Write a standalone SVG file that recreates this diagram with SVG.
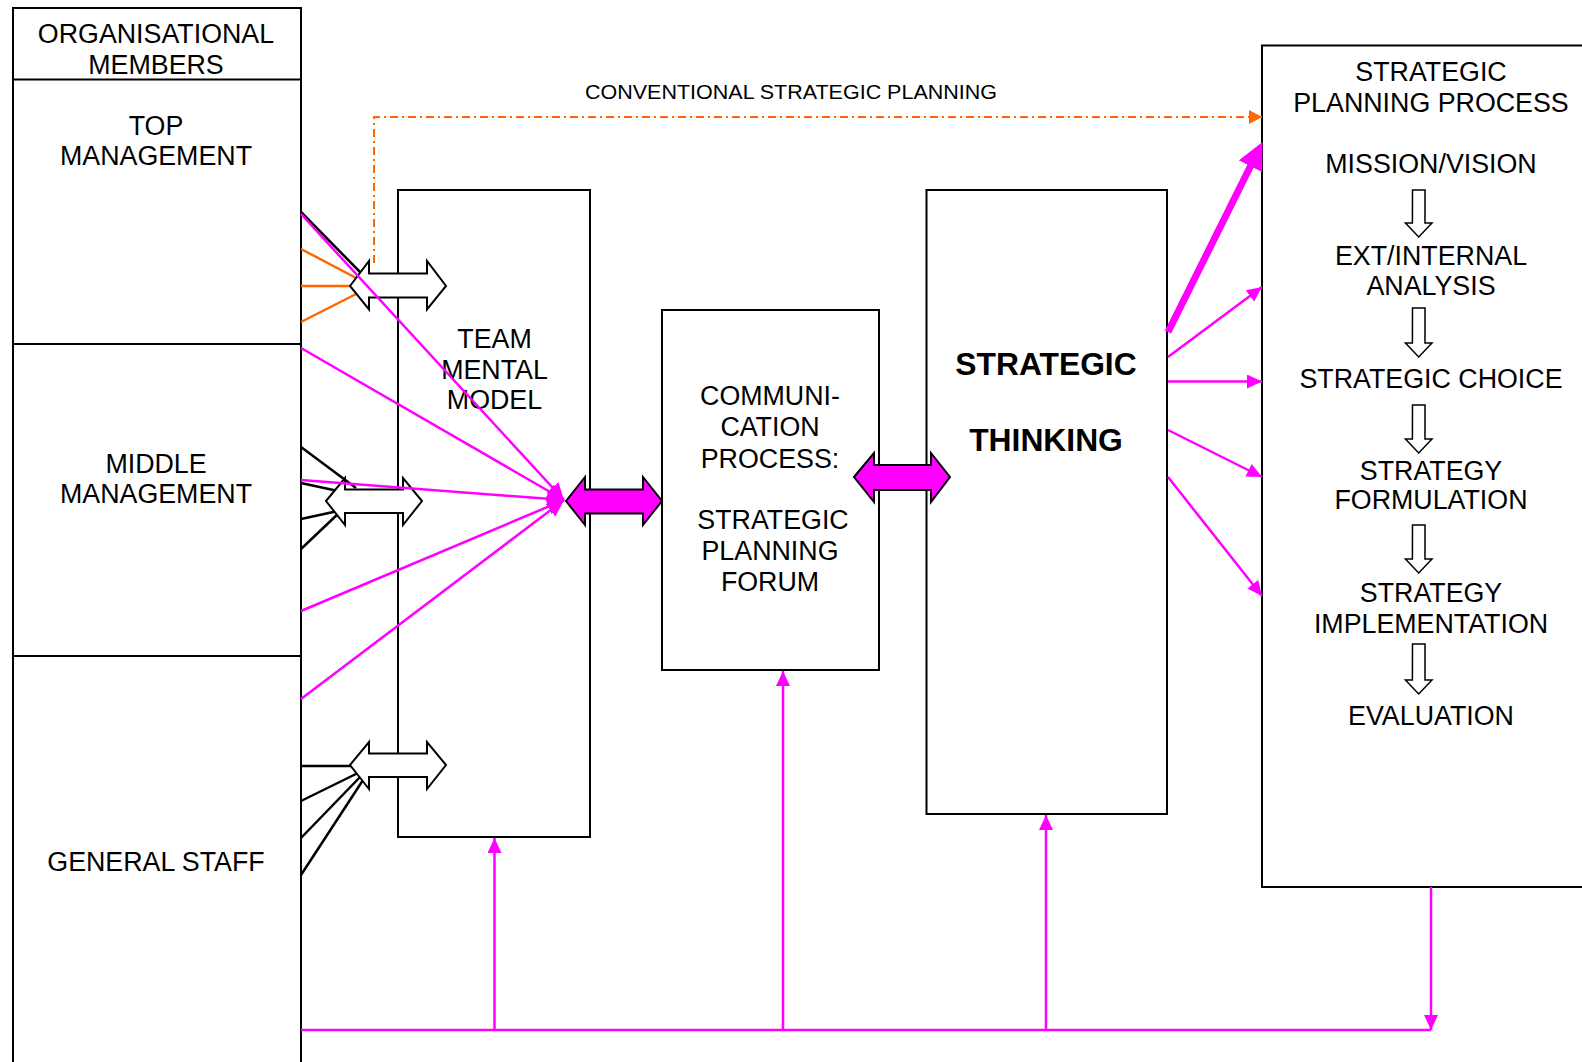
<svg xmlns="http://www.w3.org/2000/svg" width="1582" height="1062" viewBox="0 0 1582 1062">
<style>
.box{fill:#fff;stroke:#000;stroke-width:2}
.t{font-family:"Liberation Sans",Arial,sans-serif;font-size:26.8px;fill:#000;text-anchor:middle}
.tb{font-family:"Liberation Sans",Arial,sans-serif;font-size:31.8px;font-weight:bold;fill:#000;text-anchor:middle}
.blk{stroke:#000;stroke-width:2.5;fill:none}
.org{stroke:#FF6600;stroke-width:2.5;fill:none}
.mag{stroke:#FF00FF;stroke-width:2.5;fill:none}
.wa{fill:#fff;stroke:#000;stroke-width:2}
.ma{fill:#FF00FF;stroke:#000;stroke-width:2}
.ha{fill:#fff;stroke:#000;stroke-width:1.5}
</style>
<defs>
<marker id="mh" markerUnits="userSpaceOnUse" markerWidth="16" markerHeight="14" refX="15" refY="7" orient="auto"><path d="M0,0 L15,7 L0,14 z" fill="#FF00FF"/></marker>
<marker id="mhc" markerUnits="userSpaceOnUse" markerWidth="18" markerHeight="16" refX="17" refY="8" orient="auto"><path d="M0,0 L17,8 L0,16 z" fill="#FF00FF"/></marker>
<marker id="mhb" markerUnits="userSpaceOnUse" markerWidth="28" markerHeight="26" refX="12" refY="13" orient="auto"><path d="M0,0 L27,13 L0,26 z" fill="#FF00FF"/></marker>
<marker id="oh" markerUnits="userSpaceOnUse" markerWidth="14" markerHeight="14" refX="13" refY="7" orient="auto"><path d="M0,0 L13,7 L0,14 z" fill="#FF6600"/></marker>
</defs>

<g id="members">
<rect class="box" x="13" y="8" width="288" height="1070"/>
<line class="blk" x1="13" y1="79.5" x2="301" y2="79.5" style="stroke-width:2"/>
<line class="blk" x1="13" y1="344" x2="301" y2="344" style="stroke-width:2"/>
<line class="blk" x1="13" y1="656" x2="301" y2="656" style="stroke-width:2"/>
<text class="t" x="156" y="42.5">ORGANISATIONAL</text>
<text class="t" x="156" y="73.5">MEMBERS</text>
</g>
<g id="top-management">
<text class="t" x="156" y="134.5">TOP</text>
<text class="t" x="156" y="165">MANAGEMENT</text>
</g>
<g id="middle-management">
<text class="t" x="156" y="472.5">MIDDLE</text>
<text class="t" x="156" y="503">MANAGEMENT</text>
</g>
<g id="general-staff">
<text class="t" x="156" y="871">GENERAL STAFF</text>
</g>

<g id="team-mental-model">
<rect class="box" x="398" y="190" width="192" height="647"/>
<text class="t" x="494.5" y="347.5">TEAM</text>
<text class="t" x="494.5" y="378.5">MENTAL</text>
<text class="t" x="494.5" y="409">MODEL</text>
</g>

<g id="communication-process">
<rect class="box" x="662" y="310" width="217" height="360"/>
<text class="t" x="770" y="405">COMMUNI-</text>
<text class="t" x="770" y="436">CATION</text>
<text class="t" x="770" y="467.5">PROCESS:</text>
<text class="t" x="773" y="529">STRATEGIC</text>
<text class="t" x="770" y="559.5">PLANNING</text>
<text class="t" x="770" y="590.5">FORUM</text>
</g>

<g id="strategic-thinking">
<rect class="box" x="926.5" y="190" width="240.5" height="624"/>
<text class="tb" x="1046" y="375">STRATEGIC</text>
<text class="tb" x="1046" y="451">THINKING</text>
</g>

<g id="strategic-planning-process">
<rect class="box" x="1262" y="45.5" width="340" height="841.5"/>
<text class="t" x="1431" y="80.5">STRATEGIC</text>
<text class="t" x="1431" y="111.5">PLANNING PROCESS</text>
<text class="t" x="1431" y="172.5">MISSION/VISION</text>
<text class="t" x="1431" y="264.5">EXT/INTERNAL</text>
<text class="t" x="1431" y="295">ANALYSIS</text>
<text class="t" x="1431" y="388">STRATEGIC CHOICE</text>
<text class="t" x="1431" y="479.5">STRATEGY</text>
<text class="t" x="1431" y="509">FORMULATION</text>
<text class="t" x="1431" y="601.5">STRATEGY</text>
<text class="t" x="1431" y="633">IMPLEMENTATION</text>
<text class="t" x="1431" y="725">EVALUATION</text>
<path class="ha" d="M1412.5,190 h12.5 v33 h7 l-13.3,14 l-13.3,-14 h7 z"/>
<path class="ha" d="M1412.5,308 h12.5 v35 h7 l-13.3,14 l-13.3,-14 h7 z"/>
<path class="ha" d="M1412.5,405 h12.5 v34 h7 l-13.3,14 l-13.3,-14 h7 z"/>
<path class="ha" d="M1412.5,525 h12.5 v34 h7 l-13.3,14 l-13.3,-14 h7 z"/>
<path class="ha" d="M1412.5,644 h12.5 v36 h7 l-13.3,14 l-13.3,-14 h7 z"/>
</g>

<g id="connectors">
<line class="blk" x1="301" y1="212" x2="362" y2="274"/>
<line class="org" x1="301" y1="249" x2="360" y2="280"/>
<line class="org" x1="301" y1="286" x2="355" y2="286"/>
<line class="org" x1="301" y1="322" x2="360" y2="292"/>
<line class="blk" x1="301" y1="447" x2="356" y2="488"/>
<line class="blk" x1="301" y1="483" x2="338" y2="491"/>
<line class="blk" x1="301" y1="519" x2="338" y2="511"/>
<line class="blk" x1="301" y1="549" x2="340" y2="512"/>
<line class="blk" x1="301" y1="766" x2="355" y2="766"/>
<line class="blk" x1="301" y1="801" x2="360" y2="772"/>
<line class="blk" x1="301" y1="838" x2="362" y2="775"/>
<line class="blk" x1="301" y1="875" x2="365" y2="777"/>

<polyline class="org" style="stroke-width:2;stroke-dasharray:8 4 2 4" points="374,263 374,117 1262,117" marker-end="url(#oh)"/>
<text x="791" y="99" style="font-family:'Liberation Sans',Arial,sans-serif;font-size:20px;fill:#000;text-anchor:middle" textLength="412" lengthAdjust="spacingAndGlyphs">CONVENTIONAL STRATEGIC PLANNING</text>

<path class="wa" d="M350,286 L369,261 V273.5 H427 V261 L446,286 L427,309.5 V297.5 H369 V309.5 Z"/>
<path class="wa" d="M326,501 L345,478 V489.5 H403 V478 L422,501 L403,525 V513 H345 V525 Z"/>
<path class="wa" d="M350,765 L369,742 V753.5 H427 V742 L446,765 L427,789 V777 H369 V789 Z"/>

<line class="mag" x1="301" y1="214" x2="564" y2="500" marker-end="url(#mhc)"/>
<line class="mag" x1="301" y1="348" x2="564" y2="500" marker-end="url(#mhc)"/>
<line class="mag" x1="301" y1="480" x2="564" y2="500" marker-end="url(#mhc)"/>
<line class="mag" x1="301" y1="611" x2="564" y2="500" marker-end="url(#mhc)"/>
<line class="mag" x1="301" y1="699" x2="564" y2="500" marker-end="url(#mhc)"/>

<path class="ma" d="M566,501 L585,477 V489.5 H643 V477 L662,501 L643,525 V513.5 H585 V525 Z"/>
<path class="ma" d="M854,477 L874,453 V465 H931 V453 L950,477 L931,502 V490 H874 V502 Z"/>

<line class="mag" style="stroke-width:7" x1="1168" y1="332" x2="1255.8" y2="155.5" marker-end="url(#mhb)"/>
<line class="mag" x1="1168" y1="357" x2="1262" y2="287" marker-end="url(#mh)"/>
<line class="mag" x1="1168" y1="381.5" x2="1262" y2="381.5" marker-end="url(#mh)"/>
<line class="mag" x1="1168" y1="430" x2="1262" y2="477" marker-end="url(#mh)"/>
<line class="mag" x1="1168" y1="477" x2="1262" y2="596" marker-end="url(#mh)"/>

<line class="mag" x1="1431" y1="887" x2="1431" y2="1030" marker-end="url(#mh)"/>
<line class="mag" x1="301" y1="1030" x2="1431" y2="1030"/>
<line class="mag" x1="494.5" y1="1030" x2="494.5" y2="838" marker-end="url(#mh)"/>
<line class="mag" x1="783" y1="1030" x2="783" y2="671" marker-end="url(#mh)"/>
<line class="mag" x1="1046" y1="1030" x2="1046" y2="815" marker-end="url(#mh)"/>
</g>
</svg>
